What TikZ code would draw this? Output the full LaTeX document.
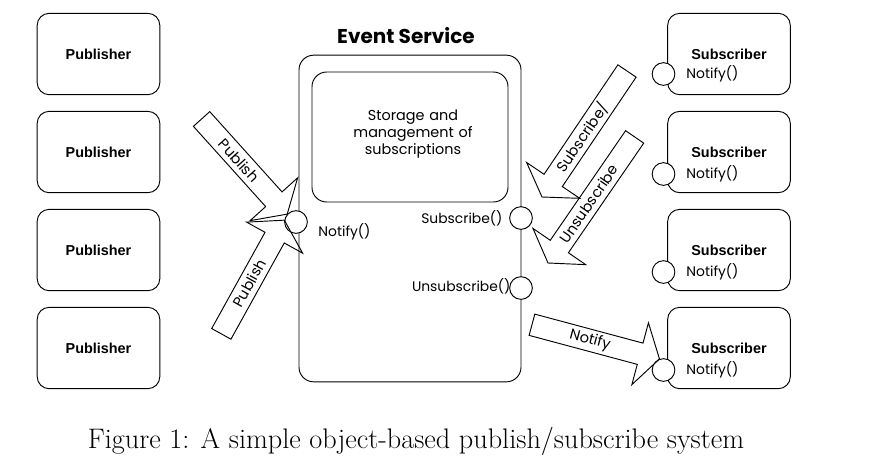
\documentclass[tikz,border=0pt]{standalone}
\usepackage{fontspec}
\usepackage{tikz}
\usetikzlibrary{positioning, calc}
\newfontfamily\gothic{Poppins}
\newfontfamily\arialfont{Liberation Sans}

\tikzset{
  pics/bigarrow/.style n args={3}{code={
    \draw (0,0) -- (-20,32) -- (-20,11) -- (-#1,11) -- (-#1,-11) -- (-20,-11) -- (-20,-32) -- cycle;
    \node[transform shape, rotate=#3, font=\gothic\fontsize{11}{13}\selectfont] at (-72,0) {#2};
  }}
}

\begin{document}
\begin{tikzpicture}[x=0.75pt, y=-0.75pt, line width=0.7pt, node distance=73.5pt,
    pubbox/.style={draw, rounded corners=9pt, minimum width=92pt, minimum height=61pt,
      font=\arialfont\bfseries\fontsize{10.8}{13}\selectfont},
    port/.style={circle, draw, fill=white, minimum size=17pt, inner sep=0pt},
    gtext/.style={font=\gothic\fontsize{10.4}{12}\selectfont, inner sep=0pt}]
    \useasboundingbox (0,0) rectangle (893,469);

    % publishers
    \node[pubbox] (p1) at (98.5,54) {Publisher};
    \node[pubbox, below of=p1] (p2) {Publisher};
    \node[pubbox, below of=p2] (p3) {Publisher};
    \node[pubbox, below of=p3] (p4) {Publisher};

    % subscribers
    \node[pubbox] (s1) at (729,54) {Subscriber};
    \node[pubbox, below of=s1] (s2) {Subscriber};
    \node[pubbox, below of=s2] (s3) {Subscriber};
    \node[pubbox, below of=s3] (s4) {Subscriber};

    % event service
    \node[draw, rounded corners=11pt, minimum width=166.5pt, minimum height=245pt] (es) at (410,218.5) {};
    \node[font=\gothic\bfseries\fontsize{15}{18}\selectfont] (title) at (406,36) {Event Service};
    \node[draw, rounded corners=11pt, minimum width=147pt, minimum height=97.5pt] (store) at (410,137) {};
    \node[gtext, align=center, text width=140pt, font=\gothic\fontsize{10.8}{12.5}\selectfont] (storetxt) at (413,134)
        {Storage and\\ management of\\ subscriptions};

    % ports
    \node[port] (pc) at (296,222) {};
    \node[port] (subc) at (521,218) {};
    \node[port] (unsubc) at (521,288) {};
    \node[gtext, anchor=west] (notifytxt) at (318,232) {Notify()};
    \node[gtext, anchor=east] (subtxt) at (503,218) {Subscribe()};
    \node[gtext, anchor=east] (unsubtxt) at (511,286) {Unsubscribe()};

    \foreach \i/\y in {1/74, 2/174, 3/272, 4/370} {
        \node[port] (sc\i) at (663.5,\y) {};
        \node[gtext, right=8pt of sc\i] (sn\i) {Notify()};
    }

    % big arrows
    \pic[rotate=-48] at (pc.138) {bigarrow={128}{Publish}{0}};
    \pic[rotate=61] at (pc.171) {bigarrow={130}{Publish}{0}};
    \pic[rotate=-124] at ([shift={(21,-21)}]subc.center) {bigarrow={152}{Subscribe/}{180}};
    \pic[rotate=-124.5] at ([shift={(27,-25)}]unsubc.center) {bigarrow={153}{Unsubscribe}{180}};
    \pic[rotate=-15] at (sc4.110) {bigarrow={132}{Notify}{0}};

    \node[font=\fontsize{21.2}{25}\selectfont] (caption) at (416,441)
        {Figure 1: A simple object-based publish/subscribe system};
\end{tikzpicture}
\end{document}
